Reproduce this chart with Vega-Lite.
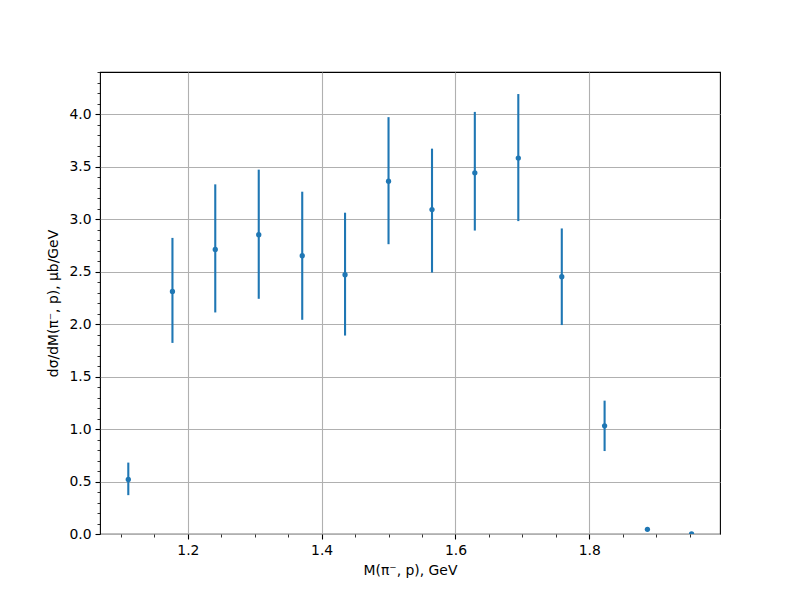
{
  "$schema": "https://vega.github.io/schema/vega-lite/v6.json",
  "autosize": "none",
  "width": 620,
  "height": 462,
  "padding": {"left": 100, "top": 72, "right": 80, "bottom": 66},
  "background": "white",
  "config": {
    "font": "DejaVu Sans",
    "view": {"stroke": "black", "strokeWidth": 1.1},
    "axis": {
      "domain": false,
      "labelFont": "DejaVu Sans",
      "labelFontSize": 13.9,
      "labelColor": "black",
      "titleFont": "DejaVu Sans",
      "titleFontSize": 13.9,
      "titleFontWeight": "normal",
      "titleColor": "black",
      "tickColor": "black",
      "gridColor": "#b0b0b0",
      "gridWidth": 1.1,
      "labelPadding": 4
    }
  },
  "data": {
    "values": [
      {"m": 1.111, "y": 0.52, "lo": 0.37, "hi": 0.68},
      {"m": 1.177, "y": 2.31, "lo": 1.82, "hi": 2.82},
      {"m": 1.241, "y": 2.71, "lo": 2.11, "hi": 3.33},
      {"m": 1.306, "y": 2.85, "lo": 2.24, "hi": 3.47},
      {"m": 1.371, "y": 2.65, "lo": 2.04, "hi": 3.26},
      {"m": 1.435, "y": 2.47, "lo": 1.89, "hi": 3.06},
      {"m": 1.500, "y": 3.36, "lo": 2.76, "hi": 3.97},
      {"m": 1.565, "y": 3.09, "lo": 2.49, "hi": 3.67},
      {"m": 1.629, "y": 3.44, "lo": 2.89, "hi": 4.02},
      {"m": 1.694, "y": 3.58, "lo": 2.98, "hi": 4.19},
      {"m": 1.759, "y": 2.45, "lo": 1.99, "hi": 2.91},
      {"m": 1.823, "y": 1.03, "lo": 0.79, "hi": 1.27},
      {"m": 1.887, "y": 0.045, "lo": 0.04, "hi": 0.05},
      {"m": 1.953, "y": 0.0, "lo": 0.0, "hi": 0.0}
    ]
  },
  "encoding": {
    "x": {
      "field": "m",
      "type": "quantitative",
      "scale": {"domain": [1.0687, 1.9955], "nice": false, "zero": false},
      "axis": {
        "title": "M(π⁻, p), GeV",
        "values": [1.1, 1.15, 1.2, 1.25, 1.3, 1.35, 1.4, 1.45, 1.5, 1.55, 1.6, 1.65, 1.7, 1.75, 1.8, 1.85, 1.9, 1.95],
        "labelExpr": "abs(datum.value*5 - round(datum.value*5)) < 1e-6 ? format(datum.value, '.1f') : ''",
        "tickSize": {"condition": {"test": "abs(datum.value*5 - round(datum.value*5)) < 1e-6", "value": 5}, "value": 3},
        "tickWidth": {"condition": {"test": "abs(datum.value*5 - round(datum.value*5)) < 1e-6", "value": 1.1}, "value": 0.8},
        "gridOpacity": {"condition": {"test": "abs(datum.value*5 - round(datum.value*5)) < 1e-6", "value": 1}, "value": 0},
        "labelPadding": 4,
        "titlePadding": 7,
        "labelFlush": false,
        "labelOverlap": false
      }
    }
  },
  "layer": [
    {
      "mark": {"type": "rule", "color": "#1f77b4", "strokeWidth": 2.1},
      "encoding": {
        "y": {
          "field": "lo",
          "type": "quantitative",
          "scale": {"domain": [0, 4.4], "nice": false},
          "axis": {
            "title": "dσ/dM(π⁻, p), μb/GeV",
            "values": [0, 0.1, 0.2, 0.3, 0.4, 0.5, 0.6, 0.7, 0.8, 0.9, 1.0, 1.1, 1.2, 1.3, 1.4, 1.5, 1.6, 1.7, 1.8, 1.9, 2.0, 2.1, 2.2, 2.3, 2.4, 2.5, 2.6, 2.7, 2.8, 2.9, 3.0, 3.1, 3.2, 3.3, 3.4, 3.5, 3.6, 3.7, 3.8, 3.9, 4.0, 4.1, 4.2, 4.3, 4.4],
            "labelExpr": "abs(datum.value*2 - round(datum.value*2)) < 1e-6 ? format(datum.value, '.1f') : ''",
            "tickSize": {"condition": {"test": "abs(datum.value*2 - round(datum.value*2)) < 1e-6", "value": 5}, "value": 3},
            "tickWidth": {"condition": {"test": "abs(datum.value*2 - round(datum.value*2)) < 1e-6", "value": 1.1}, "value": 0.8},
            "gridOpacity": {"condition": {"test": "abs(datum.value*2 - round(datum.value*2)) < 1e-6", "value": 1}, "value": 0},
            "labelPadding": 4,
            "titlePadding": 8,
            "labelFlush": false,
            "labelOverlap": false
          }
        },
        "y2": {"field": "hi"}
      }
    },
    {
      "mark": {"type": "point", "filled": true, "color": "#1f77b4", "opacity": 1, "size": 28, "clip": true},
      "encoding": {
        "y": {
          "field": "y",
          "type": "quantitative",
          "scale": {"domain": [0, 4.4], "nice": false},
          "axis": {
            "title": "dσ/dM(π⁻, p), μb/GeV",
            "values": [0, 0.1, 0.2, 0.3, 0.4, 0.5, 0.6, 0.7, 0.8, 0.9, 1.0, 1.1, 1.2, 1.3, 1.4, 1.5, 1.6, 1.7, 1.8, 1.9, 2.0, 2.1, 2.2, 2.3, 2.4, 2.5, 2.6, 2.7, 2.8, 2.9, 3.0, 3.1, 3.2, 3.3, 3.4, 3.5, 3.6, 3.7, 3.8, 3.9, 4.0, 4.1, 4.2, 4.3, 4.4],
            "labelExpr": "abs(datum.value*2 - round(datum.value*2)) < 1e-6 ? format(datum.value, '.1f') : ''",
            "tickSize": {"condition": {"test": "abs(datum.value*2 - round(datum.value*2)) < 1e-6", "value": 5}, "value": 3},
            "tickWidth": {"condition": {"test": "abs(datum.value*2 - round(datum.value*2)) < 1e-6", "value": 1.1}, "value": 0.8},
            "gridOpacity": {"condition": {"test": "abs(datum.value*2 - round(datum.value*2)) < 1e-6", "value": 1}, "value": 0},
            "labelPadding": 4,
            "titlePadding": 8,
            "labelFlush": false,
            "labelOverlap": false
          }
        }
      }
    }
  ]
}
